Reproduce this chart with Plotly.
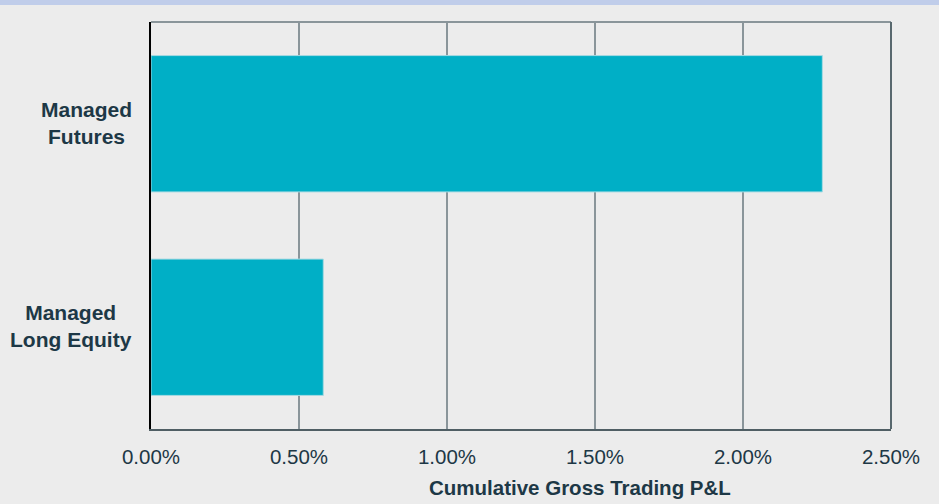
import plotly.graph_objects as go

categories = ["Managed<br>Futures", "Managed<br>Long Equity"]
values = [2.268, 0.582]
x_tick_vals = [0, 0.5, 1.0, 1.5, 2.0, 2.5]
x_tick_text = ["0.00%", "0.50%", "1.00%", "1.50%", "2.00%", "2.50%"]
x_title = "Cumulative Gross Trading P&L"

W, H = 943, 504
ML, MR, MT, MB = 151, 52, 22, 75
PW, PH = W - ML - MR, H - MT - MB
FONT = "Liberation Sans, Arial, sans-serif"
TXT = "#1d3846"

fig = go.Figure(go.Bar(
    x=values, y=categories, orientation="h",
    marker=dict(color="#00afc6", line=dict(color="#a6dae2", width=1)),
    width=0.67, hoverinfo="skip",
))

annotations = [
    dict(x=0, xref="paper", y=c, yref="y", text=f"<b>{c}</b>", showarrow=False,
         xanchor="right", yanchor="middle", align="center", xshift=-17, yshift=1,
         font=dict(family=FONT, size=21, color=TXT))
    for c in categories
]
annotations.append(dict(
    x=(580 - ML) / PW, xref="paper", y=-(487 - (H - MB)) / PH, yref="paper",
    text=f"<b>{x_title}</b>", showarrow=False, xanchor="center", yanchor="middle",
    font=dict(family=FONT, size=20.5, color=TXT)))

shapes = [
    dict(type="rect", xref="paper", yref="paper",
         x0=-ML / PW - 0.01, x1=(W - 4 - ML) / PW, y0=1 + (MT - 5) / PH, y1=1 + MT / PH + 0.01,
         fillcolor="#c0cdea", line=dict(width=0), layer="above"),
    dict(type="rect", xref="paper", yref="paper",
         x0=(W - 4 - ML) / PW, x1=(W - ML) / PW + 0.01, y0=-MB / PH - 0.01, y1=1 + MT / PH + 0.01,
         fillcolor="#ffffff", line=dict(width=0), layer="above"),
    dict(type="line", xref="paper", yref="paper", x0=0, x1=1, y0=1, y1=1,
         line=dict(color="#8a959a", width=2), layer="above"),
    dict(type="line", xref="paper", yref="paper", x0=1, x1=1, y0=0, y1=1,
         line=dict(color="#58686e", width=2), layer="above"),
]

fig.update_layout(
    width=W, height=H,
    margin=dict(l=ML, r=MR, t=MT, b=MB, pad=0),
    paper_bgcolor="#ececec", plot_bgcolor="#ececec",
    showlegend=False,
    bargap=0.33,
    annotations=annotations,
    shapes=shapes,
    xaxis=dict(
        range=[0, 2.5], tickvals=x_tick_vals, ticktext=x_tick_text,
        showgrid=True, gridcolor="#8a959a", gridwidth=1.5,
        zeroline=False, showline=True, linecolor="#4f5e64", linewidth=1.5,
        ticks="", ticklabelstandoff=9,
        tickfont=dict(family=FONT, size=20.5, color=TXT),
        fixedrange=True,
    ),
    yaxis=dict(
        autorange="reversed", showticklabels=False, showgrid=False,
        zeroline=False, showline=True, linecolor="#000000", linewidth=2,
        ticks="", fixedrange=True,
    ),
)

fig.write_html("out.html", config={"displayModeBar": False},
               post_script="document.body.style.margin='0';document.body.style.padding='0';")
